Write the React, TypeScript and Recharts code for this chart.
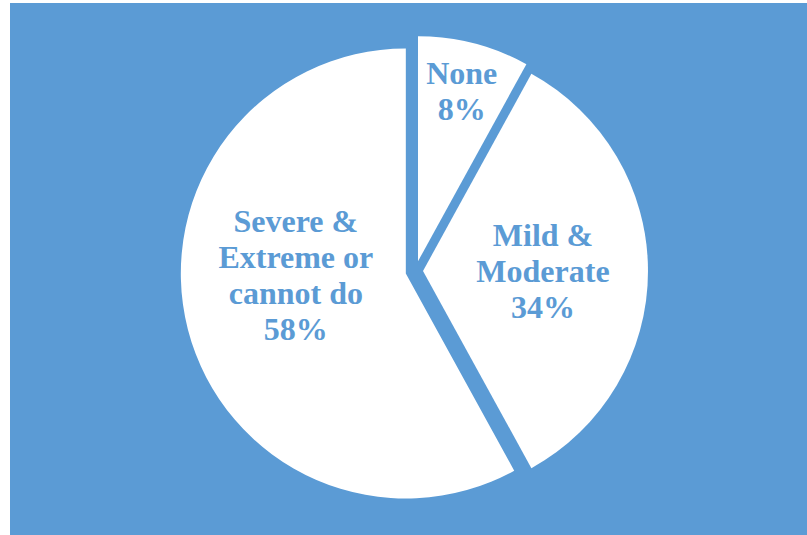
import React from 'react';
import { PieChart, Pie, Cell } from 'recharts';

// ---- data ----
const categories: string[] = ['None', 'Mild & Moderate', 'Severe & Extreme or cannot do'];
const values: number[] = [8, 34, 58];

// ---- style ----
const BLUE = '#5B9BD5';
const W = 807;
const H = 535;
const CX = 415.5;
const CY = 271;
const R = 225;
const START = 90;
const END = -270;
const EXPLODE = [10, 7.5, 10];
const LABEL_R = [176, 120, 110];
const LABEL_ANGLE: (number | null)[] = [null, 0, 181];
const FONT_SIZE = 32;
const LINE_H = 36;
const CAP_H = 21.5;

const data = categories.map((name, i) => ({ name, value: values[i] }));
const total = values.reduce((a, b) => a + b, 0);

function midAngleOf(i: number): number {
  let cum = 0;
  for (let k = 0; k < i; k++) cum += values[k];
  return START + (END - START) * (cum + values[i] / 2) / total;
}

function wrap(text: string, max = 10): string[] {
  const words = text.split(' ');
  const lines: string[] = [];
  let cur = '';
  for (const w of words) {
    const next = cur ? cur + ' ' + w : w;
    if (next.length > max && cur) {
      lines.push(cur);
      cur = w;
    } else {
      cur = next;
    }
  }
  if (cur) lines.push(cur);
  return lines;
}

const RAD = Math.PI / 180;

function makeLabel(owner: number) {
  return (props: any) => {
    const { cx, cy, midAngle, index, percent, name } = props;
    if (index !== owner) return null;
    const ang = LABEL_ANGLE[index] ?? midAngle;
    const r = LABEL_R[index];
    const x = cx + r * Math.cos(ang * RAD);
    const yc = cy - r * Math.sin(ang * RAD);
    const lines = [...wrap(String(name)), `${Math.round(percent * 100)}%`];
    const y0 = yc + CAP_H / 2 - ((lines.length - 1) * LINE_H) / 2;
    return (
      <text
        key={`lbl-${index}`}
        x={x}
        y={y0}
        textAnchor="middle"
        fill={BLUE}
        fontFamily='"Liberation Serif", "Times New Roman", serif'
        fontWeight="bold"
        fontSize={FONT_SIZE}
      >
        {lines.map((ln, k) => (
          <tspan key={k} x={x} y={y0 + k * LINE_H}>
            {ln}
          </tspan>
        ))}
      </text>
    );
  };
}

export default function App() {
  return (
    <div style={{ position: 'absolute', left: 0, top: 0, width: W, height: H, background: '#ffffff' }}>
      <div
        style={{
          position: 'absolute',
          left: 10,
          top: 3,
          width: W - 10,
          height: H - 3,
          background: BLUE,
        }}
      />
      <div style={{ position: 'absolute', left: 0, top: 0 }}>
        <PieChart width={W} height={H} margin={{ top: 0, right: 0, bottom: 0, left: 0 }}>
          {data.map((_, owner) => {
            const m = midAngleOf(owner);
            const d = EXPLODE[owner];
            const pcx = CX + d * Math.cos(m * RAD);
            const pcy = CY - d * Math.sin(m * RAD);
            return (
              <Pie
                key={owner}
                data={data}
                dataKey="value"
                nameKey="name"
                cx={pcx}
                cy={pcy}
                innerRadius={0}
                outerRadius={R}
                startAngle={START}
                endAngle={END}
                isAnimationActive={false}
                labelLine={false}
                label={makeLabel(owner)}
                stroke="none"
              >
                {data.map((__, j) => (
                  <Cell
                    key={j}
                    fill={j === owner ? '#ffffff' : 'transparent'}
                    fillOpacity={j === owner ? 1 : 0}
                    stroke="none"
                  />
                ))}
              </Pie>
            );
          })}
        </PieChart>
      </div>
    </div>
  );
}
